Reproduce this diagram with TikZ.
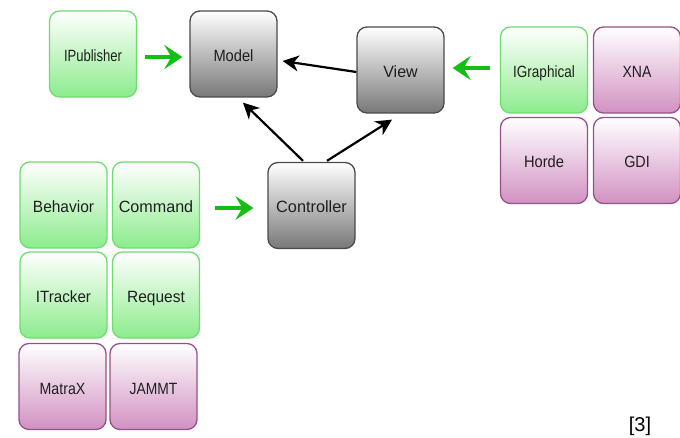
\documentclass[tikz,border=0pt]{standalone}
\usepackage{fontspec}
\usepackage{graphicx}
\setmainfont{Liberation Sans}
\usetikzlibrary{arrows.meta,calc}
\definecolor{gborder}{RGB}{110,220,110}
\definecolor{gfill}{RGB}{140,236,140}
\definecolor{kborder}{RGB}{75,75,75}
\definecolor{kfill}{RGB}{120,120,120}
\definecolor{pborder}{RGB}{150,80,140}
\definecolor{pfill}{RGB}{210,145,194}
\definecolor{garrow}{RGB}{20,190,20}
\newcommand{\fsz}[1]{\fontsize{#1}{#1}\selectfont}
\newcommand{\sx}[2]{\scalebox{#1}[1]{#2}}
\tikzset{
  box/.style={rounded corners=10pt, line width=1.3pt, minimum width=87pt, minimum height=86pt,
    inner sep=0pt, text height=15pt, text depth=0pt, font=\fsz{16.3}, text=black!88,
    top color=white, middle color=white},
  gbox/.style={box, draw=gborder, bottom color=gfill},
  kbox/.style={box, draw=kborder, bottom color=kfill},
  pbox/.style={box, draw=pborder, bottom color=pfill},
  garr/.style={draw=garrow, line width=4pt, -{Stealth[length=18pt,width=24pt,inset=7pt]}},
  karr/.style={draw=black, line width=2.2pt, -{Stealth[length=16pt,width=16pt,inset=5pt]}}
}
\begin{document}
\begin{tikzpicture}[x=1pt,y=-1pt]
\fill[white] (0,0) rectangle (680,438);
\useasboundingbox (0,0) rectangle (680,438);
\node[gbox] (ipub) at (93,54) {\sx{0.8}{IPublisher}};
\node[kbox] (model) at (233.5,54) {\sx{0.9}{Model}};
\node[kbox] (view) at (400.5,70) {\sx{0.98}{View}};
\node[gbox] (igraph) at (544,70) {\sx{0.83}{IGraphical}};
\node[pbox] (xna) at (637,70) {\sx{0.86}{XNA}};
\node[pbox] (horde) at (544,160.5) {\sx{0.9}{Horde}};
\node[pbox] (gdi) at (637,160.5) {\sx{0.88}{GDI}};
\node[kbox] (ctrl) at (311.5,205.5) {\sx{1.0}{Controller}};
\node[gbox] (behav) at (63.5,205) {\sx{0.95}{Behavior}};
\node[gbox] (cmd) at (156,205) {\sx{0.99}{Command}};
\node[gbox] (itrack) at (63.5,295) {\sx{0.93}{ITracker}};
\node[gbox] (req) at (156,295) {\sx{0.95}{Request}};
\node[pbox] (matrax) at (62.5,386.5) {\sx{0.87}{MatraX}};
\node[pbox] (jammt) at (153.5,386.5) {\sx{0.85}{JAMMT}};
\node[font=\fsz{20}] (ref) at (640,426) {[3]};
\draw[garr, shorten <=8pt, shorten >=7pt] ($(ipub.east)+(0,3)$) -- ($(model.west)+(0,3)$);
\draw[garr, shorten <=10pt, shorten >=8pt] ($(igraph.west)+(0,-2)$) -- ($(view.east)+(0,-2)$);
\draw[garr, shorten <=15pt, shorten >=14pt] ($(cmd.east)+(0,3)$) -- ($(ctrl.west)+(0,2.5)$);
\draw[karr] ($(view.west)+(0,2)$) -- ($(model.east)+(5,7)$);
\draw[karr] ($(ctrl.north)+(-8.5,-1)$) -- ($(model.south)+(9.5,5)$);
\draw[karr] ($(ctrl.north)+(15.5,-1)$) -- ($(view.south)+(-8.5,6)$);
\end{tikzpicture}
\end{document}
